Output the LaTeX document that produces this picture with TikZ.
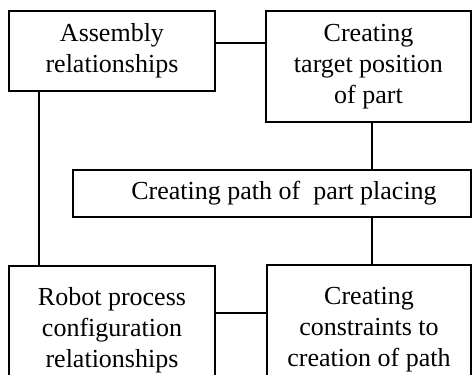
\documentclass[tikz,border=0pt]{standalone}
\usepackage{fontspec}
\setmainfont{Liberation Serif}
\usetikzlibrary{positioning}

\begin{document}
\begin{tikzpicture}[x=0.5pt, y=-0.5pt,
      font=\fontsize{13}{15.5}\selectfont,
      blk/.style={draw=black, line width=0.9pt, align=center, inner sep=2pt},
      lnk/.style={draw=black, line width=0.9pt}
    ]
    \clip (0,0) rectangle (473,375);
    % ------------- upper row -------------
    \node[blk, minimum width=103pt, minimum height=40pt] (asm) at (112,51)
      {Assembly\\relationships};
    \node[blk, minimum width=102.5pt, minimum height=55.5pt] (tgt) at (368.5,66.5)
      {Creating\\target position\\of part};
    % ------------- middle -------------
    \node[blk, minimum width=199pt, minimum height=23.5pt] (path) at (272,193.5)
      {\hspace*{12pt}Creating path of\ \ part placing};
    % ------------- lower row -------------
    \node[blk, minimum width=103pt, minimum height=64pt] (robot) at (112,330)
      {Robot process\\configuration\\relationships};
    \node[blk, minimum width=102pt, minimum height=64.5pt] (cons) at (369,329.5)
      {Creating\\constraints to\\creation of path};
    % ------------- links -------------
    \coordinate (ytop) at (0,43);
    \coordinate (ybot) at (0,313);
    \coordinate (xleft) at (39,0);
    \coordinate (xright) at (372,0);
    \draw[lnk] (asm.east |- ytop) -- (tgt.west |- ytop);
    \draw[lnk] (robot.east |- ybot) -- (cons.west |- ybot);
    \draw[lnk] (asm.south -| xleft) -- (robot.north -| xleft);
    \draw[lnk] (tgt.south -| xright) -- (path.north -| xright);
    \draw[lnk] (path.south -| xright) -- (cons.north -| xright);
  \end{tikzpicture}
\end{document}
